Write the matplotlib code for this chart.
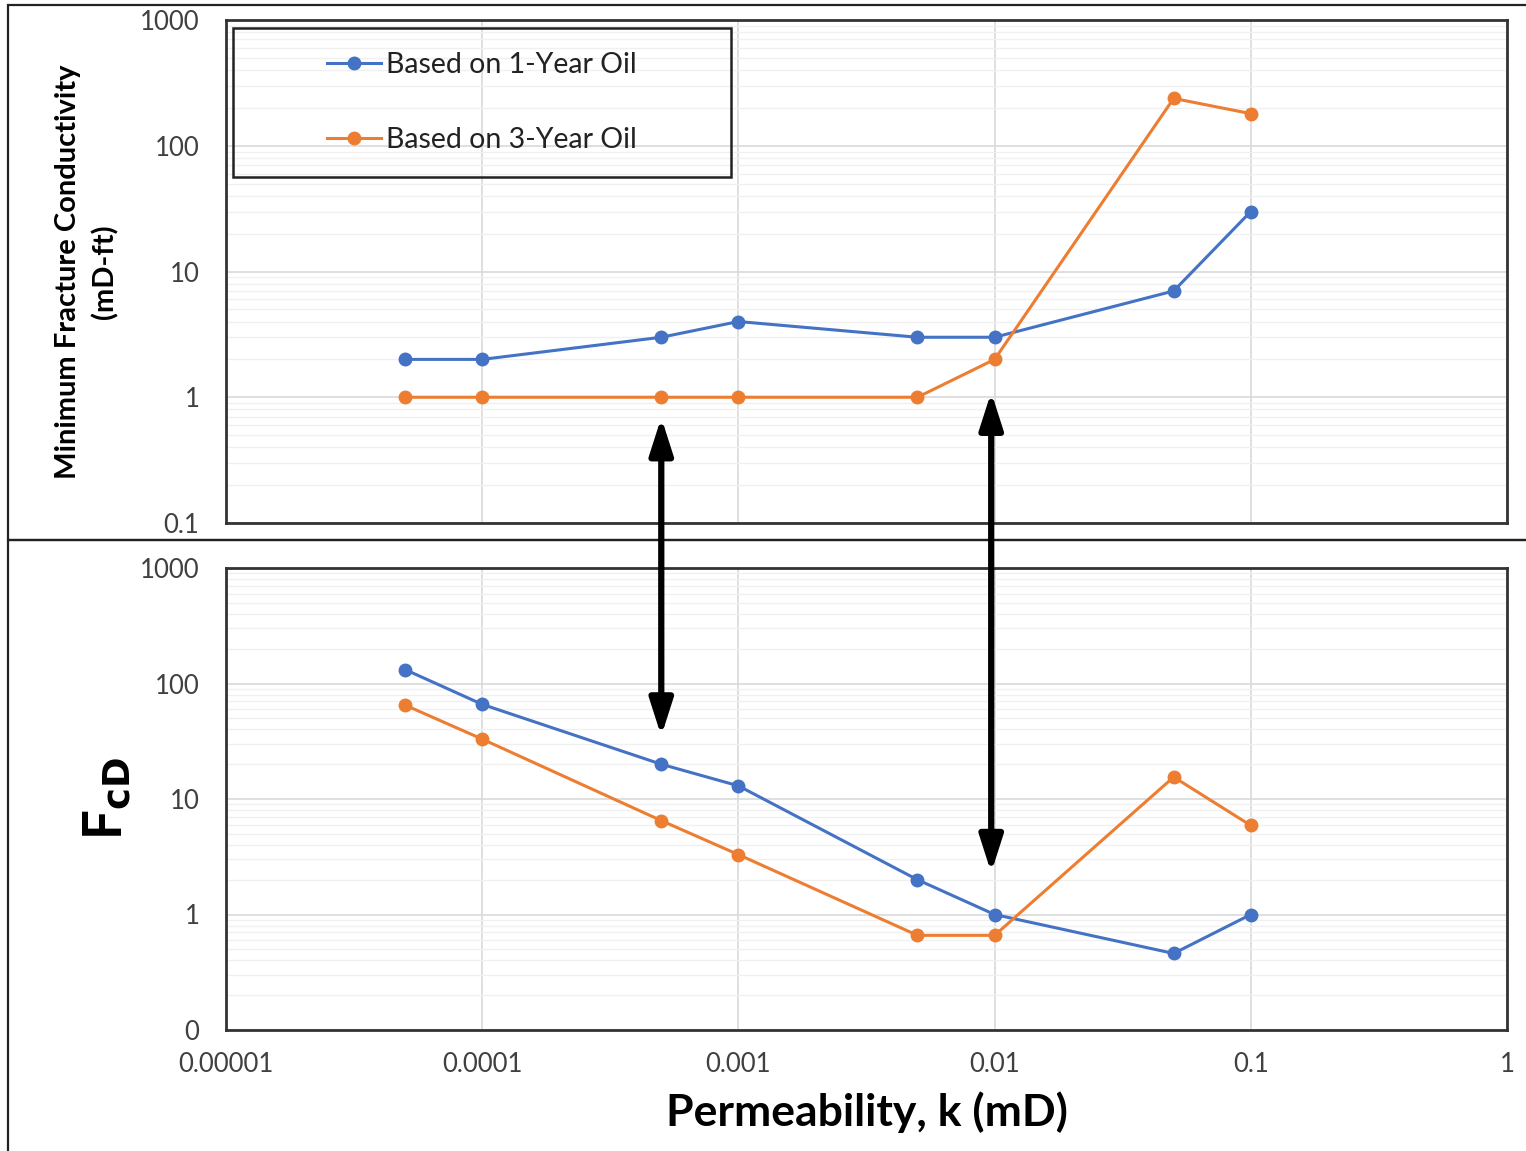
import numpy as np
import matplotlib
matplotlib.use("Agg")
import matplotlib.pyplot as plt
from matplotlib.patches import Rectangle, ConnectionPatch
from matplotlib.lines import Line2D
from matplotlib.ticker import FixedLocator, LogLocator, NullFormatter

plt.rcParams['font.family'] = ['Lato', 'DejaVu Sans']

# data
perm = [5e-5, 1e-4, 5e-4, 1e-3, 5e-3, 1e-2, 5e-2, 1e-1]
cond_1yr = [2, 2, 3, 4, 3, 3, 7, 30]
cond_3yr = [1, 1, 1, 1, 1, 2, 238, 180]
fcd_1yr = [132, 66, 20, 13, 2, 1, 0.46, 1]
fcd_3yr = [65, 33, 6.5, 3.3, 0.66, 0.66, 15.5, 5.9]
series_labels = ['Based on 1-Year Oil', 'Based on 3-Year Oil']
x_ticks = [1e-5, 1e-4, 1e-3, 1e-2, 1e-1, 1]
x_ticklabels = ['0.00001', '0.0001', '0.001', '0.01', '0.1', '1']
y_ticks = [0.1, 1, 10, 100, 1000]
top_yticklabels = ['0.1', '1', '10', '100', '1000']
bot_yticklabels = ['0', '1', '10', '100', '1000']

blue = '#4472C4'
orange = '#ED7D31'
tick_col = '#404040'
W, H = 1526, 1151

fig = plt.figure(figsize=(W / 100, H / 100), dpi=100)
ax1 = fig.add_axes([226 / W, 1 - 523 / H, 1281 / W, 503 / H])
ax2 = fig.add_axes([226 / W, 1 - 1030 / H, 1281 / W, 462 / H])


def style_axis(ax, yticklabels, show_x):
    ax.set_xscale('log')
    ax.set_yscale('log')
    ax.set_xlim(1e-5, 1)
    ax.set_ylim(0.1, 1000)
    ax.xaxis.set_major_locator(FixedLocator(x_ticks))
    ax.xaxis.set_minor_locator(FixedLocator([]))
    ax.yaxis.set_major_locator(FixedLocator(y_ticks))
    ax.yaxis.set_minor_locator(LogLocator(base=10, subs=np.arange(2, 10)))
    ax.yaxis.set_minor_formatter(NullFormatter())
    ax.set_yticklabels(yticklabels)
    if show_x:
        ax.set_xticklabels(x_ticklabels)
    else:
        ax.set_xticklabels([])
    ax.tick_params(which='both', length=0)
    ax.tick_params(axis='y', pad=19, labelsize=18.5, labelcolor=tick_col)
    ax.tick_params(axis='x', pad=16, labelsize=18.5, labelcolor=tick_col)
    ax.grid(which='major', color='#d9d9d9', lw=1.2)
    ax.grid(which='minor', axis='y', color='#f0f0f0', lw=1.0)
    ax.set_axisbelow(True)
    for s in ax.spines.values():
        s.set_color('#333333')
        s.set_linewidth(2)


style_axis(ax1, top_yticklabels, False)
style_axis(ax2, bot_yticklabels, True)

kw = dict(marker='o', markersize=9, lw=2.2, clip_on=False, zorder=3)
ax1.plot(perm, cond_1yr, color=blue, **kw)
ax1.plot(perm, cond_3yr, color=orange, **kw)
ax2.plot(perm, fcd_1yr, color=blue, **kw)
ax2.plot(perm, fcd_3yr, color=orange, **kw)

# legend with a hand drawn frame like the excel one
handles = [Line2D([], [], color=blue, marker='o', markersize=9, lw=2.2),
           Line2D([], [], color=orange, marker='o', markersize=9, lw=2.2)]
ax1.legend(handles, series_labels, loc='center', bbox_to_anchor=(0.2, 0.836),
           frameon=False, fontsize=20.5, labelspacing=1.72, handlelength=1.9,
           handletextpad=0.18, labelcolor='#222222')
ax1.add_patch(Rectangle((7 / 1281, 1 - 177 / 503 + 20 / 503), 498 / 1281, 149 / 503,
                        transform=ax1.transAxes, fill=False, ec='#222222', lw=1.8,
                        zorder=5))

ax1.set_ylabel('Minimum Fracture Conductivity\n(mD-ft)', fontsize=21, fontweight='bold',
               linespacing=1.45)
ax1.yaxis.set_label_coords(-0.084, 0.5)
ax2.set_ylabel('F$_{\\mathbf{cD}}$', fontsize=38, fontweight='bold')
ax2.yaxis.set_label_coords(-0.072, 0.5)
ax2.set_xlabel('Permeability, k (mD)', fontsize=32, fontweight='bold', labelpad=10)

# double headed arrows linking the two panels
arrows = [(5e-4, 0.69, 35), (0.0097, 1.1, 2.3)]
for xa, y_top, y_bot in arrows:
    con = ConnectionPatch(xyA=(xa, y_top), coordsA=ax1.transData,
                          xyB=(xa, y_bot), coordsB=ax2.transData,
                          arrowstyle='<|-|>,head_length=1.0,head_width=0.32',
                          lw=4.5, color='black', shrinkA=0, shrinkB=0,
                          mutation_scale=22, zorder=10)
    fig.add_artist(con)

# outer panel boxes
for y0, y1 in [(5, 540), (540, 1160)]:
    fig.add_artist(Rectangle((8 / W, 1 - y1 / H), 1.0, (y1 - y0) / H,
                             transform=fig.transFigure, fill=False,
                             ec='#222222', lw=1.6))

fig.savefig('out.png', dpi=100)
